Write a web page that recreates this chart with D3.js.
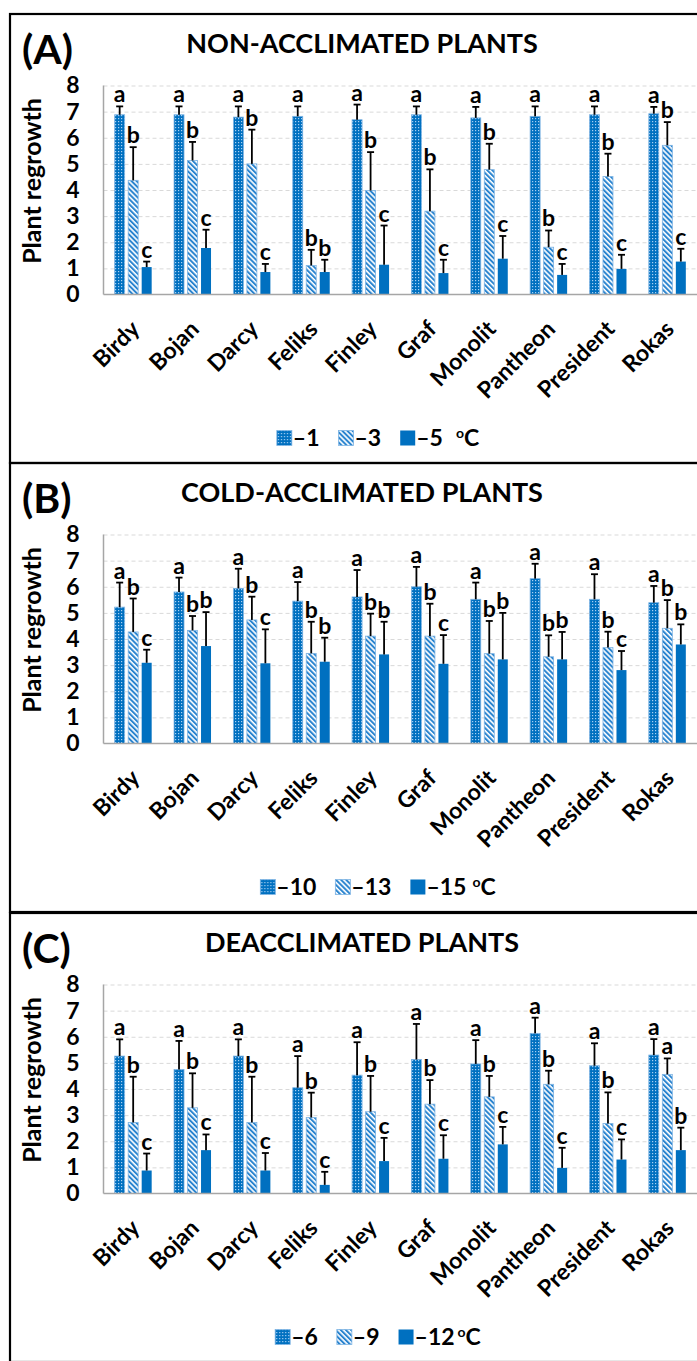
<!DOCTYPE html>
<html>
<head>
<meta charset="utf-8">
<script src="https://cdn.jsdelivr.net/npm/d3@7"></script>
<style>
  body { margin: 0; background: #fff; }
  text { font-family: Lato, "Open Sans", sans-serif; font-weight: bold; fill: #000; }
</style>
</head>
<body>
<div id="chart"></div>
<script>
// ---------- data ----------
const cultivars = ["Birdy", "Bojan", "Darcy", "Feliks", "Finley", "Graf", "Monolit", "Pantheon", "President", "Rokas"];

// (A) non-acclimated, test temps -1 / -3 / -5 °C
const naTemps = ["–1", "–3", "–5"];
const naMeans = [
  [6.88, 6.88, 6.79, 6.82, 6.69, 6.88, 6.76, 6.82, 6.88, 6.92],
  [4.37, 5.13, 5.00, 1.11, 3.98, 3.19, 4.78, 1.81, 4.52, 5.71],
  [1.05, 1.78, 0.86, 0.86, 1.14, 0.82, 1.37, 0.75, 0.98, 1.26]
];
const naErrors = [
  [0.32, 0.32, 0.41, 0.38, 0.58, 0.32, 0.42, 0.38, 0.32, 0.26],
  [1.27, 0.71, 1.31, 0.60, 1.47, 1.60, 0.99, 0.64, 0.87, 0.89],
  [0.21, 0.70, 0.31, 0.47, 1.50, 0.51, 0.87, 0.42, 0.54, 0.49]
];
const naLetters = [
  ["a", "a", "a", "a", "a", "a", "a", "a", "a", "a"],
  ["b", "b", "b", "b", "b", "b", "b", "b", "b", "b"],
  ["c", "c", "c", "b", "c", "c", "c", "c", "c", "c"]
];

// (B) cold-acclimated, test temps -10 / -13 / -15 °C
const caTemps = ["–10", "–13", "–15"];
const caMeans = [
  [5.22, 5.80, 5.94, 5.45, 5.61, 6.00, 5.52, 6.31, 5.52, 5.39],
  [4.27, 4.33, 4.73, 3.45, 4.11, 4.11, 3.44, 3.32, 3.67, 4.41],
  [3.09, 3.73, 3.07, 3.13, 3.41, 3.05, 3.22, 3.22, 2.81, 3.79]
];
const caErrors = [
  [0.94, 0.55, 0.75, 0.73, 1.03, 0.76, 0.64, 0.57, 0.96, 0.64],
  [1.28, 0.55, 0.89, 1.21, 0.86, 1.24, 1.25, 0.82, 0.61, 1.08],
  [0.50, 1.30, 1.30, 0.92, 1.25, 1.10, 1.78, 1.05, 0.73, 0.77]
];
const caLetters = [
  ["a", "a", "a", "a", "a", "a", "a", "a", "a", "a"],
  ["b", "b", "b", "b", "b", "b", "b", "b", "b", "b"],
  ["c", "b", "c", "b", "b", "c", "b", "b", "c", "b"]
];

// (C) deacclimated, test temps -6 / -9 / -12 °C
const daTemps = ["–6", "–9", "–12"];
const daMeans = [
  [5.26, 4.75, 5.26, 4.05, 4.53, 5.13, 4.96, 6.13, 4.89, 5.30],
  [2.72, 3.28, 2.72, 2.91, 3.13, 3.42, 3.70, 4.18, 2.68, 4.56],
  [0.88, 1.66, 0.88, 0.33, 1.24, 1.33, 1.88, 0.98, 1.30, 1.66]
];
const daErrors = [
  [0.64, 1.09, 0.64, 1.21, 1.26, 1.36, 0.91, 0.60, 0.86, 0.61],
  [1.75, 1.32, 1.75, 0.95, 1.37, 0.92, 0.80, 0.52, 1.19, 0.61],
  [0.65, 0.60, 0.67, 0.50, 0.89, 0.90, 0.67, 0.77, 0.77, 0.86]
];
const daLetters = [
  ["a", "a", "a", "a", "a", "a", "a", "a", "a", "a"],
  ["b", "b", "b", "b", "b", "b", "b", "b", "b", "a"],
  ["c", "c", "c", "c", "c", "c", "c", "c", "c", "b"]
];

const yTicks = [0, 1, 2, 3, 4, 5, 6, 7, 8];

// ---------- drawing ----------
const W = 697, H = 1361;
const blue = "#0070C0";
const fills = ["url(#patDots)", "url(#patDiag)", blue];

const svg = d3.select("#chart").append("svg")
  .attr("width", W).attr("height", H)
  .style("background", "#fff");

const defs = svg.append("defs");
const dots = defs.append("pattern").attr("id", "patDots")
  .attr("patternUnits", "userSpaceOnUse").attr("width", 3).attr("height", 3);
dots.append("rect").attr("width", 3).attr("height", 3).attr("fill", blue);
dots.append("rect").attr("x", 1).attr("y", 1).attr("width", 1.2).attr("height", 1.2).attr("fill", "#a9d0f2");

const diag = defs.append("pattern").attr("id", "patDiag")
  .attr("patternUnits", "userSpaceOnUse").attr("width", 3.6).attr("height", 3.6)
  .attr("patternTransform", "rotate(-45)");
diag.append("rect").attr("width", 3.6).attr("height", 3.6).attr("fill", "#ffffff");
diag.append("rect").attr("width", 2).attr("height", 3.6).attr("fill", "#2a84cf");

const x0 = d3.scaleBand().domain(cultivars).range([103.5, 697]);
const x1 = d3.scaleBand().domain([0, 1, 2]).range([-18.5, 18.5]).paddingInner(0.26);

function drawPanel(cfg) {
  const T = cfg.top;
  const g = svg.append("g");

  g.append("rect")
    .attr("x", 10).attr("y", T).attr("width", 720).attr("height", 449)
    .attr("fill", "none").attr("stroke", "#000").attr("stroke-width", 2.2);

  const y = d3.scaleLinear().domain([0, 8]).range([T + 280.5, T + 71.5]);

  // grid + tick labels
  const yAxis = g.append("g")
    .attr("transform", "translate(103.5,0)")
    .call(d3.axisLeft(y).tickValues(yTicks).tickSize(-(697 - 103.5)).tickPadding(24).tickFormat(d3.format("d")));
  yAxis.select(".domain").remove();
  yAxis.selectAll(".tick line")
    .attr("stroke", "#d9d9d9").attr("stroke-dasharray", "4,3").attr("stroke-width", 1)
    .filter(d => d === 0).remove();
  yAxis.selectAll(".tick text")
    .attr("font-size", 23).attr("font-family", "Lato, sans-serif").attr("font-weight", "bold")
    .attr("fill", "#000");

  // axis lines
  g.append("line").attr("x1", 103.5).attr("x2", 103.5).attr("y1", y(8)).attr("y2", y(0))
    .attr("stroke", "#a6a6a6").attr("stroke-width", 1.5);

  // bars
  const rows = [];
  cfg.means.forEach((arr, s) => arr.forEach((m, i) => rows.push({
    c: cultivars[i], s: s, m: m, e: cfg.errors[s][i], l: cfg.letters[s][i]
  })));
  const cx = d => x0(d.c) + x0.bandwidth() / 2 + x1(d.s) + x1.bandwidth() / 2;

  g.selectAll("rect.bar").data(rows).enter().append("rect")
    .attr("class", "bar")
    .attr("x", d => cx(d) - x1.bandwidth() / 2)
    .attr("width", x1.bandwidth())
    .attr("y", d => y(d.m))
    .attr("height", d => y(0) - y(d.m))
    .attr("fill", d => fills[d.s])
    .attr("stroke", d => d.s < 2 ? "#7db3e3" : "none")
    .attr("stroke-width", 0.8);

  g.append("line").attr("x1", 103.5).attr("x2", 697).attr("y1", y(0)).attr("y2", y(0))
    .attr("stroke", "#a6a6a6").attr("stroke-width", 1.5);

  // error bars (upper only)
  g.selectAll("line.err").data(rows).enter().append("line")
    .attr("class", "err")
    .attr("x1", cx).attr("x2", cx)
    .attr("y1", d => y(d.m)).attr("y2", d => y(d.m + d.e))
    .attr("stroke", "#000").attr("stroke-width", 1.8);
  g.selectAll("line.cap").data(rows).enter().append("line")
    .attr("class", "cap")
    .attr("x1", d => cx(d) - 3.5).attr("x2", d => cx(d) + 3.5)
    .attr("y1", d => y(d.m + d.e)).attr("y2", d => y(d.m + d.e))
    .attr("stroke", "#000").attr("stroke-width", 1.8);

  // significance letters
  g.selectAll("text.sig").data(rows).enter().append("text")
    .attr("class", "sig")
    .attr("x", cx)
    .attr("y", d => y(d.m + d.e) - 4)
    .attr("text-anchor", "middle")
    .attr("font-size", 23)
    .text(d => d.l);

  // x labels
  const xAxis = g.append("g")
    .attr("transform", `translate(0,${y(0)})`)
    .call(d3.axisBottom(x0).tickSize(0));
  xAxis.select(".domain").remove();
  xAxis.selectAll(".tick text")
    .attr("font-size", 23).attr("font-family", "Lato, sans-serif").attr("font-weight", "bold")
    .attr("fill", "#000")
    .attr("text-anchor", "end")
    .attr("dy", 0).attr("y", 0)
    .attr("transform", "translate(8,36) rotate(-45)");

  // titles
  g.append("text").attr("x", 362).attr("y", T + 39)
    .attr("text-anchor", "middle").attr("font-size", 27).text(cfg.title);
  g.append("text").attr("x", 22).attr("y", T + 50)
    .attr("font-size", 41).text(cfg.tag);
  g.append("text")
    .attr("transform", `translate(41,${T + 167}) rotate(-90)`)
    .attr("text-anchor", "middle").attr("font-size", 25).text("Plant regrowth");

  // legend
  const leg = g.append("g");
  let lx = 0;
  cfg.temps.forEach((t, s) => {
    leg.append("rect").attr("x", lx).attr("y", -7.5).attr("width", 15).attr("height", 15)
      .attr("fill", fills[s]).attr("stroke", s < 2 ? "#7db3e3" : "none").attr("stroke-width", 0.8);
    const tx = leg.append("text").attr("x", lx + 16).attr("y", 8).attr("font-size", 23).text(t);
    lx += 16 + tx.node().getComputedTextLength() + 19;
  });
  lx -= 19;
  const unit = leg.append("text").attr("x", lx + cfg.unitGap).attr("y", 8).attr("font-size", 23);
  unit.append("tspan").attr("font-size", 14).attr("dy", -8).text("o");
  unit.append("tspan").attr("dy", 8).text("C");
  lx += cfg.unitGap + unit.node().getComputedTextLength();
  leg.attr("transform", `translate(${378 - lx / 2},${T + 424})`);
}

drawPanel({ top: 14, tag: "(A)", title: "NON-ACCLIMATED PLANTS", temps: naTemps,
  means: naMeans, errors: naErrors, letters: naLetters, unitGap: 13 });
drawPanel({ top: 463, tag: "(B)", title: "COLD-ACCLIMATED PLANTS", temps: caTemps,
  means: caMeans, errors: caErrors, letters: caLetters, unitGap: 6 });
drawPanel({ top: 913, tag: "(C)", title: "DEACCLIMATED PLANTS", temps: daTemps,
  means: daMeans, errors: daErrors, letters: daLetters, unitGap: 3 });
</script>
</body>
</html>
